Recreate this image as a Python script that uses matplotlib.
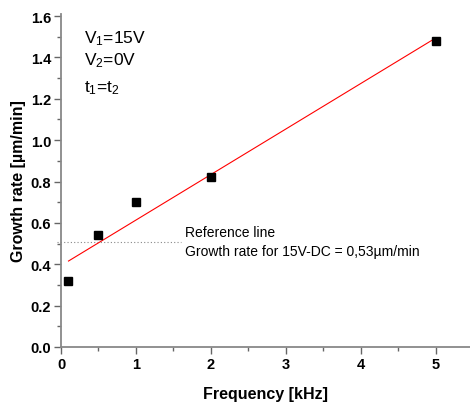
import numpy as np
import matplotlib
matplotlib.use("Agg")
import matplotlib.pyplot as plt
from matplotlib.ticker import MultipleLocator

plt.rcParams['font.family'] = ['Liberation Sans', 'DejaVu Sans']
plt.rcParams['mathtext.default'] = 'regular'

freq = [0.1, 0.5, 1.0, 2.0, 5.0]
growth = [0.32, 0.54, 0.70, 0.82, 1.48]
ref_value = 0.51
ref_x = [-0.05, 1.6]
xticks = [0, 1, 2, 3, 4, 5]
yticks = [0.0, 0.2, 0.4, 0.6, 0.8, 1.0, 1.2, 1.4, 1.6]

fig = plt.figure(figsize=(4.7, 4.06), dpi=100)
ax = fig.add_axes([61/470, 58/406, (470-61)/470, (348-15)/406])

slope, intercept = np.polyfit(freq, growth, 1)
fx = np.array([freq[0], freq[-1]])
ax.plot(fx, slope*fx + intercept, color='red', lw=0.8, zorder=2)
ax.plot(freq, growth, 's', color='black', ms=5.8, zorder=3)
ax.plot(ref_x, [ref_value, ref_value], color='#888888', lw=0.8,
        linestyle=(0, (1, 2)), clip_on=False, zorder=1)

ax.set_xlim(0, 5.46)
ax.set_ylim(0, 1.61)
ax.set_xticks(xticks)
ax.set_yticks(yticks)
ax.set_xticklabels([str(t) for t in xticks], fontweight='bold', fontsize=10.5)
ax.set_yticklabels([f"{t:.1f}" for t in yticks], fontweight='bold', fontsize=10.5)
ax.xaxis.set_minor_locator(MultipleLocator(0.5))
ax.yaxis.set_minor_locator(MultipleLocator(0.1))
ax.tick_params(which='major', length=5, width=1.0, color='#666666', direction='out', pad=2)
ax.tick_params(which='minor', length=3, width=1.0, color='#666666', direction='out')

for s in ['top', 'right']:
    ax.spines[s].set_visible(False)
for s in ['left', 'bottom']:
    ax.spines[s].set_color('#888888')
    ax.spines[s].set_linewidth(1.3)

ax.set_xlabel('Frequency [kHz]', fontweight='bold', fontsize=11.5, labelpad=11)
ax.set_ylabel('Growth rate [µm/min]', fontweight='bold', fontsize=11.5, labelpad=3)

ax.text(0.31, 1.498, 'V$_1$=15V', fontsize=12.5, va='center', ha='left')
ax.text(0.31, 1.387, 'V$_2$=0V', fontsize=12.5, va='center', ha='left')
ax.text(0.31, 1.257, 't$_1$=t$_2$', fontsize=12.5, va='center', ha='left')

ax.text(1.656, 0.556, 'Reference line', fontsize=10, va='center', ha='left')
ax.text(1.656, 0.464, 'Growth rate for 15V-DC = 0,53µm/min', fontsize=10, va='center', ha='left')

fig.savefig('out.png', dpi=100)
